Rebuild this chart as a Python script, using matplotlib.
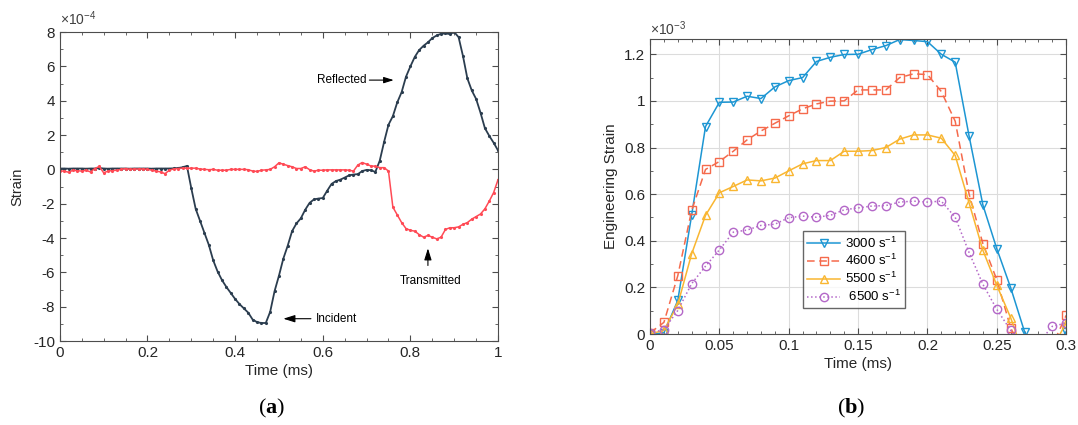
import numpy as np
import matplotlib
matplotlib.use("Agg")
import matplotlib.pyplot as plt
from matplotlib.ticker import MultipleLocator, FormatStrFormatter

plt.rcParams['font.family'] = ['Liberation Sans', 'DejaVu Sans']
plt.rcParams['axes.unicode_minus'] = False
plt.rcParams['mathtext.fontset'] = 'custom'
plt.rcParams['mathtext.rm'] = 'Liberation Sans'
plt.rcParams['mathtext.bf'] = 'Liberation Serif:bold'

# ---- (a) bar signals, strain in 1e-4, sampled every 0.01 ms ----
time_a = np.round(np.arange(101) * 0.01, 2)
incident_reflected = [
    0.05, 0.05, 0.04, 0.05, 0.05, 0.05, 0.04, 0.05, 0.05, 0.08,
    0.05, 0.04, 0.05, 0.05, 0.05, 0.05, 0.04, 0.05, 0.05, 0.05,
    0.05, 0.04, 0.05, 0.05, 0.05, 0.05, 0.06, 0.08, 0.12, 0.2,
    -1.1, -2.3, -3.0, -3.7, -4.4, -5.3, -5.95, -6.45, -6.85, -7.2,
    -7.55, -7.85, -8.1, -8.35, -8.75, -8.9, -8.95, -8.95, -8.3, -7.1,
    -6.2, -5.2, -4.45, -3.6, -3.15, -2.85, -2.35, -1.95, -1.75, -1.7,
    -1.67, -1.25, -0.85, -0.68, -0.6, -0.48, -0.35, -0.3, -0.28, -0.1,
    -0.03, -0.05, -0.15, 0.5, 1.6, 2.6, 3.1, 3.9, 4.5, 5.4,
    6.0, 6.55, 6.95, 7.2, 7.4, 7.65, 7.8, 7.9, 7.92, 7.88,
    8.0, 7.7, 6.6, 5.3, 4.6, 4.1, 3.3, 2.4, 1.95, 1.55,
    1.1,
]
transmitted = [
    -0.1, -0.1, -0.17, -0.05, -0.08, -0.1, -0.05, -0.15, 0.05, 0.17,
    -0.2, -0.1, -0.07, -0.05, 0.0, 0.05, 0.0, 0.02, 0.02, 0.02,
    0.0, -0.05, -0.1, -0.15, -0.25, -0.05, 0.03, 0.05, 0.07, 0.07,
    0.07, 0.07, 0.02, 0.0, -0.02, 0.0, -0.05, -0.05, -0.05, 0.0,
    0.0, 0.0, 0.0, -0.02, -0.1, -0.12, -0.05, -0.03, 0.0, 0.15,
    0.38, 0.3, 0.22, 0.15, 0.05, 0.05, 0.15, -0.02, -0.1, -0.05,
    -0.05, -0.03, -0.03, -0.03, -0.03, -0.03, -0.05, -0.1, 0.25, 0.4,
    0.3, 0.2, 0.18, 0.1, 0.1, -0.1, -2.2, -2.65, -3.1, -3.45,
    -3.55, -3.6, -3.8, -3.95, -3.85, -3.95, -4.05, -3.95, -3.5, -3.4,
    -3.4, -3.35, -3.2, -3.1, -2.9, -2.75, -2.6, -2.3, -1.85, -1.35,
    -0.6,
]

# ---- (b) engineering strain in 1e-3, every 0.01 ms ----
time_b = np.round(np.arange(31) * 0.01, 2)
rate_labels = ['3000 s$^{-1}$', '4600 s$^{-1}$', '5500 s$^{-1}$', ' 6500 s$^{-1}$']
strain_3000 = [0.0, 0.005, 0.144, 0.51, 0.89, 0.994, 0.995, 1.02, 1.01, 1.06,
               1.087, 1.10, 1.169, 1.187, 1.199, 1.20, 1.22, 1.237, 1.263, 1.259,
               1.254, 1.20, 1.166, 0.85, 0.553, 0.366, 0.199, 0.01, -0.12, -0.08,
               0.01]
strain_4600 = [0.005, 0.05, 0.25, 0.53, 0.706, 0.74, 0.784, 0.833, 0.871, 0.904,
               0.936, 0.966, 0.987, 0.999, 1.0, 1.047, 1.047, 1.047, 1.10, 1.116,
               1.113, 1.04, 0.913, 0.601, 0.387, 0.233, 0.027, -0.1, -0.12, -0.05,
               0.08]
strain_5500 = [0.0, 0.016, 0.127, 0.344, 0.509, 0.606, 0.633, 0.661, 0.657, 0.669,
               0.70, 0.73, 0.744, 0.744, 0.784, 0.784, 0.787, 0.80, 0.836, 0.854,
               0.854, 0.84, 0.766, 0.563, 0.359, 0.209, 0.07, -0.1, -0.1, -0.06,
               0.047]
strain_6500 = [0.005, 0.019, 0.101, 0.216, 0.291, 0.361, 0.437, 0.446, 0.466, 0.471,
               0.499, 0.506, 0.501, 0.509, 0.533, 0.541, 0.549, 0.551, 0.566, 0.57,
               0.566, 0.57, 0.501, 0.35, 0.213, 0.106, 0.016, -0.08, -0.04, 0.033,
               0.047]

text_color = '#262626'
spine_color = '#4d4d4d'

fig = plt.figure(figsize=(10.78, 4.25), dpi=100)
fig.patch.set_facecolor('white')


def style_axes(ax):
    ax.tick_params(which='both', direction='in', top=True, right=True,
                   colors=spine_color, labelcolor=text_color, labelsize=11)
    ax.tick_params(which='major', length=4)
    ax.tick_params(which='minor', length=2)
    for s in ax.spines.values():
        s.set_color(spine_color)
        s.set_linewidth(0.8)


# ---------------- panel (a) ----------------
ax1 = fig.add_axes([0.0555, 0.1976, 0.4065, 0.727])
ax1.plot(time_a, incident_reflected, color='#2b3d4f', lw=1.3,
         marker='.', ms=2.5)
ax1.plot(time_a, transmitted, color='#ff4a55', lw=1.1,
         marker='.', ms=2.5)
ax1.set_xlim(0, 1)
ax1.set_ylim(-10, 8)
ax1.xaxis.set_major_locator(MultipleLocator(0.2))
ax1.xaxis.set_minor_locator(MultipleLocator(0.05))
ax1.yaxis.set_major_locator(MultipleLocator(2))
ax1.yaxis.set_minor_locator(MultipleLocator(1))
ax1.xaxis.set_major_formatter(FormatStrFormatter('%g'))
style_axes(ax1)
ax1.set_xlabel('Time (ms)', fontsize=11, color=text_color, labelpad=3)
ax1.set_ylabel('Strain', fontsize=10.5, color=text_color, labelpad=6)
ax1.text(0.0, 1.012, r'$\times$10$^{-4}$', transform=ax1.transAxes,
         fontsize=10, color='#404040', va='bottom', ha='left')

arrow = dict(arrowstyle='-|>,head_length=0.7,head_width=0.22',
             color='black', lw=0.8, shrinkA=0, shrinkB=0)
ax1.annotate('Reflected', xy=(0.762, 5.2), xytext=(0.70, 5.2),
             fontsize=8.5, ha='right', va='center', arrowprops=arrow)
ax1.annotate('', xy=(0.84, -4.6), xytext=(0.84, -5.6), arrowprops=arrow)
ax1.text(0.845, -6.5, 'Transmitted', fontsize=8.5, ha='center', va='center')
ax1.annotate('', xy=(0.51, -8.7), xytext=(0.573, -8.7), arrowprops=arrow)
ax1.text(0.584, -8.7, 'Incident', fontsize=8.5, ha='left', va='center')

fig.text(0.252, 0.04, '(' + r'$\mathbf{a}$' + ')', family='Liberation Serif',
         fontsize=16, ha='center', va='center', color='black')

# ---------------- panel (b) ----------------
ax2 = fig.add_axes([0.603, 0.214, 0.386, 0.694])
ax2.grid(True, which='major', color='#dcdcdc', lw=0.8)
ax2.set_axisbelow(True)
series = [strain_3000, strain_4600, strain_5500, strain_6500]
colors = ['#1d96d3', '#f56a4c', '#f9b631', '#b468c8']
styles = ['-', (0, (5, 3)), '-', ':']
markers = ['v', 's', '^', 'o']
for vals, lab, c, ls, mk in zip(series, rate_labels, colors, styles, markers):
    ax2.plot(time_b, vals, color=c, ls=ls, lw=1.1, marker=mk, ms=6,
             mfc='none', mec=c, mew=1.0, label=lab)
ax2.set_xlim(0, 0.3)
ax2.set_ylim(0, 1.265)
ax2.xaxis.set_major_locator(MultipleLocator(0.05))
ax2.xaxis.set_minor_locator(MultipleLocator(0.01))
ax2.yaxis.set_major_locator(MultipleLocator(0.2))
ax2.yaxis.set_minor_locator(MultipleLocator(0.1))
ax2.xaxis.set_major_formatter(FormatStrFormatter('%g'))
ax2.yaxis.set_major_formatter(FormatStrFormatter('%g'))
style_axes(ax2)
ax2.set_xlabel('Time (ms)', fontsize=11, color=text_color, labelpad=3)
ax2.set_ylabel('Engineering Strain', fontsize=11, color=text_color, labelpad=4)
ax2.text(0.0, 1.005, r'$\times$10$^{-3}$', transform=ax2.transAxes,
         fontsize=10, color='#404040', va='bottom', ha='left')

leg = ax2.legend(loc='lower left', bbox_to_anchor=(0.745, 0.275),
                 bbox_transform=fig.transFigure, fontsize=9.5, frameon=True,
                 fancybox=False, handlelength=2.5, borderpad=0.3,
                 labelspacing=0.2, handletextpad=0.4, borderaxespad=0)
leg.get_frame().set_edgecolor('#404040')
leg.get_frame().set_linewidth(1.0)

fig.text(0.79, 0.04, '(' + r'$\mathbf{b}$' + ')', family='Liberation Serif',
         fontsize=16, ha='center', va='center', color='black')

fig.savefig('out.png', dpi=100)
